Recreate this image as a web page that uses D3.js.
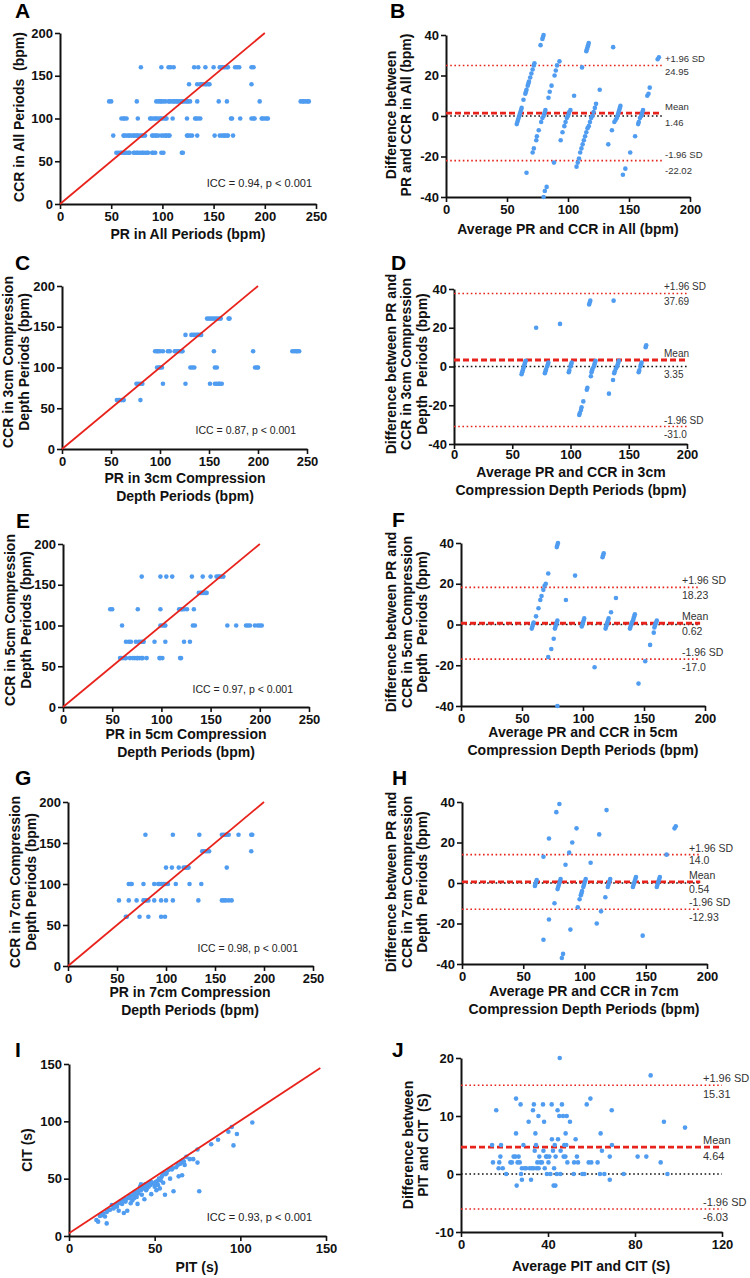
<!DOCTYPE html>
<html><head><meta charset="utf-8">
<script src="https://cdn.jsdelivr.net/npm/d3@7"></script>
<style>body{margin:0;background:#fff} text{font-family:"Liberation Sans",Arial,sans-serif}</style>
</head><body><svg id="c" width="750" height="1278"></svg>
<script>
// ---------------- DATA ----------------
const ccrLevels = [160, 140, 120, 100, 80, 60];
// PR values for each CCR level (rows follow ccrLevels)
const prA = [
  [79,99,106,108,111,131,135,142,150,156,158,160,161,163,164,171,173,175,187,189],
  [126,134,137,138,140,142,143,145,146,187],
  [48,50,75,94,96,98,99,101,103,106,107,109,111,112,114,115,117,119,120,122,124,125,127,134,155,163,195,235,237,238,240,242,243],
  [60,62,63,65,76,88,89,91,93,94,96,98,99,101,103,104,110,124,132,133,135,137,167,168,176,187,189,190,197,198,200,202,203],
  [52,62,63,65,67,68,70,72,73,75,76,78,80,81,83,90,91,93,94,96,99,101,103,104,106,107,124,125,127,129,134,151,156,158,160,161,163,164,169],
  [55,57,59,60,62,63,65,67,68,72,73,75,76,78,80,81,83,85,86,90,91,93,99,101,119,120]
];
const prC = [
  [148,150,152,154,156,158,160,162,170,171],
  [126,132,134,136,138,139,141,142],
  [95,97,98,100,103,108,110,115,117,118,120,122,123,155,195,235,237,239,240,242],
  [97,99,100,102,131,133,135,156,158,197,199,200],
  [76,78,80,82,103,126,151,156,158,160,161,163],
  [56,58,59,61,63,80]
];
const prE = [
  [80,99,105,111,131,142,150,156,158,159,161,163],
  [138,140,141,143,145,146],
  [48,50,76,99,118,120,121,123,126,133],
  [60,99,101,103,104,132,134,167,176,186,188,190,195,198,200,202],
  [64,67,69,74,77,79,81,82,93,104,123,129],
  [58,59,61,63,64,68,71,73,75,76,78,80,81,85,98,99,101,119,120]
];
const prG = [
  [79,107,134,157,159,161,162,164,174,187,188],
  [137,138,140,142,144,187],
  [100,106,113,118,120,121,123,162],
  [62,64,65,77,88,92,93,95,97,98,100,102,110,124,136],
  [52,62,70,77,78,80,82,88,95,100,107,133,157,159,161,164,167],
  [59,60,73,82,95,99]
];
// [average, difference] for Bland-Altman panels
const baB = [[58,-4],[58.5,-3],[59,-2],[59.5,-1],[60,0],[60.5,1],[61,2],[61.5,3],[62,4],[63.5,8],[65,11],[65.5,12],[66,13],[67,15],[67.5,16],[68,17],[69,19],[70,21],[71,23],[72,25],[72.5,26],
  [66,-28],[77.5,35],[79,38],[79.5,39],[80,40],
  [71,-18],[72,-16],[74,-12],[74.5,-10],[76,-7],[78,-3],[79,-1],[80,0],[80.5,1],[81,2],[81.5,3],
  [84,9],[85,12],[86.5,15],[89,20],[90,22.5],[91,25],[93,27],
  [80,-40],[81,-37],[82.5,-35],[88.5,-23],
  [94,-12],[95.5,-8],[97,-5],[98,-3],[99,-1],[100,0],[100.5,1],[101,2],[102,3],
  [105,10],[111.5,24],[115,32],[115.5,33],[116,34],[116.5,35],[117,36],
  [107,-25],[108,-23],[109,-21],[110,-18],[111,-16],[112,-14],[113,-12],[114,-10],[115,-8],[116,-6],[117,-5],[118,-3],[119,-1],[120,0],[121,2],[122,4],[123,6],[126,13],
  [133,-14],[136,-7],[138,-3],[139,-2],[140,-1],[140.5,0],[141,1],[141.5,2],[142,3],[142.5,4],[143,5],[137,34],
  [157.5,-4],[158,-3],[159,-1],[160,0],[160.5,1],[161,2],[161.5,3],[165,10],[166,11],[167,14],[173.5,28],[174.5,29],
  [155,-10],[151,-18],[147,-26],[145,-29]];
const baD = [[70.5,20],[91,22],[116,32],[116.5,33],[117,34],[137,34],
  [58,-4],[58.5,-3],[59,-2],[59.5,-1],[60,0],[60.5,1],[61,2],[61.5,3],
  [78,-3.5],[78.5,-2.5],[79,-1.5],[80,0],[80.5,1],[81,2],
  [98.5,-3],[99,-2],[100,0],[100.5,1],[101,2],
  [118,-3],[118.5,-2],[119,-1],[120,0],[120.5,1],[121,2],[121.5,3],
  [117.5,-5],[114.5,-11],[114,-12],[111,-18],[109.5,-21],[109,-22.5],[108,-24],[107.5,-25],
  [137.5,-3.5],[138,-2.5],[139,-1],[140,0],[140.5,1],[141,2],[141.5,3],[136.5,-7],[133,-14],
  [158.5,-3],[159,-2],[160,0],[160.5,1],[161,2],[164.5,10],[165,11]];
const baF = [[58,-2],[58.5,-1],[59,0],[59.5,1],[61.5,4],[63.5,8],[65,12],[66,14],[67.5,17],[68.5,19],[69.5,20],[71.5,25],
  [78.5,38],[79,39],[79.5,40],
  [77,-2],[77.5,-1],[78,0],[78.5,1],[79,2],[71.5,-16],[74,-12],[76,-7],
  [93.5,24],[86,12],[79,-40],
  [99,-1],[99.5,0],[100,1],[100.5,2],[101,3],
  [116,33],[116.5,34],[117,35],
  [118.5,-2],[119,-1],[119.5,0],[120,1],[120.5,2],[121,3],[123,6],[127,13],
  [109.5,-21],
  [138.5,-2],[139,-1],[139.5,0],[140,1],[141,2],[141.5,3],[142,4],[142.5,5],
  [158.5,-1.5],[159,-0.5],[159.5,0.5],[160,1],[160.5,2],
  [158,-4],[155,-10],[151,-18],[145.5,-29]];
const baH = [[79.5,39],[77,35],[118,36],[71,22],[93.5,27],[112,24],[90,20],[87.5,15],[66.5,13],[84.5,9],[105,10],[167,14],[173.5,27],[174.5,28],
  [59.5,-1.5],[60,-0.5],[60.5,0.5],[61,1.5],
  [78,-3],[78.5,-2],[79,-1],[79.5,0],[80,1],[80.5,2],
  [97,-6],[97.5,-5],[98,-4],[99,-2],[99.5,-1],[100,0],[100.5,1],[101,2],
  [119,-2],[119.5,-1],[120,0],[120.5,1],[121,2],
  [139.5,-2],[140,-1],[140.5,0],[141,1],[141.5,2],[142,3],
  [159,-2],[159.5,-1],[160,0],[160.5,1],[161,2],[161.5,3],
  [96,-8],[94.5,-12],[75.5,-10],[117,-7],[113.5,-14],[110,-20],[71,-18],[88.5,-23],[66.5,-28],[147.5,-26],[82.5,-35],[81.5,-37]];
// [PIT, CIT]
const pitCit = [[16,14],[17,12.5],[18,17.5],[19,18],[20,19.5],[21,17],[22,11],[22,21],[23,22.5],[24,23],[25,27],[26,24],[27,26],[28,25.5],[29,22],[29,28.5],[30,30],[31,28],[32,20],[32,32],[33,30],[34,22],[35,34],[36,35],[36,28.5],[37,31],[37.5,36],[38,33],[38.5,38.5],[39.5,34],[40,28],[40.5,37],[41,40],[41.5,43],[42,45],[42.5,36],[43,41.5],[43.5,44],[44,32],[44.5,45],[45,40],[45.5,41.5],[46.5,43],[47.5,44.5],[48,36.5],[49,46],[50,43],[50.5,47],[51,40],[52,44.5],[53,41.5],[53.5,48.5],[54,51.5],[55,46.5],[56,36],[56.5,54],[58,57.5],[59,50],[60,58],[61,39],[62.5,60],[64,52],[65,63],[66,53],[66.5,66],[67.5,62],[68.5,69],[70.5,67],[72.5,67],[75,75.5],[75,64],[76,39],[83,80],[87,84],[93,91],[95,95],[96,79],[98,89],[107,99],
  [26,25.5],[27.5,27],[30.5,29.5],[33.5,32.5],[35.5,33],[38,36.5],[39,37],[40,38.5],[42,40],[43,43],[44,42],[45,44],[46,45],[47,46],[48,47],[50,45],[51.5,48],[52.5,50],[54.5,53],[55.5,55],[57,55],[60.5,59],[63.5,62],[65.5,64],[67,65]];
// [average, difference] PIT vs CIT
const baJ = [[14.3,5],[14.7,2],[16.2,11],[17.3,1],[17.6,2],[18.4,5],[18.1,3],[19.2,1],[20.8,0],[22.7,2],[23.4,2],[24.2,3],[25,3],[25.3,13],[25.3,7],[25.6,-2],[26,2],[26.5,3],[27,2],[27.4,12],[27.6,0],[28,1],[28,-1],[28.7,5],[29.3,1],[29.9,1],[31.1,9],[31.6,1],[32.2,-1],[32.6,1],[33.1,11],[33.5,12],[33.4,1],[33.9,4],[34.2,7],[34.5,5],[34.8,1],[35.1,2],[35.6,10],[35.7,1],[36,3],[36.5,2],[37.2,2],[37.7,12],[37.9,4],[38.2,9],[38.5,1],[39.1,3],[39.5,3],[40.2,2],[39.5,0],[40.6,3],[41.1,0],[41.7,12],[41.8,6],[42.3,4],[42.6,-2],[42.8,1],[43.1,5],[43.4,-2],[43.5,3],[44,0],[44.4,11],[44.6,6],[45.2,10],[45.4,20],[45.7,0],[45.8,4],[46.4,12],[46.9,10],[47.2,3],[47.5,5],[48,3],[48.1,7],[48.4,5],[48.6,10],[48.9,2],[50.1,9],[51.8,0],[52,2],[52.7,6],[53.3,3],[53.8,2],[55.8,0],[56.7,0],[57.8,12],[58.7,2],[59.5,13],[59.9,2],[62.8,2],[64.2,7],[63.9,0],[64.8,4],[65.9,0],[68.4,3],[68.4,-1],[69.3,11],[69.4,5],[74.8,0],[81.2,3],[85.2,3],[87.2,17],[91.8,2],[93.3,9],[94.9,0],[103,8]];
// Bland-Altman statistics: [upper LoA, mean, lower LoA]
const statsB = [24.95, 1.46, -22.02];
const statsD = [37.69, 3.35, -31.0];
const statsF = [18.23, 0.62, -17.0];
const statsH = [14.0, 0.54, -12.93];
const statsJ = [15.31, 4.64, -6.03];
const statLabelsB = ["24.95", "1.46", "-22.02"];
const statLabelsD = ["37.69", "3.35", "-31.0"];
const statLabelsF = ["18.23", "0.62", "-17.0"];
const statLabelsH = ["14.0", "0.54", "-12.93"];
const statLabelsJ = ["15.31", "4.64", "-6.03"];
const identityLine = [[0,0],[200,200]];
const lineI = [[0,2.3],[146.7,146.5]];
const iccText = ["ICC = 0.94, p < 0.001","ICC = 0.87, p < 0.001","ICC = 0.97, p < 0.001","ICC = 0.98, p < 0.001","ICC = 0.93, p < 0.001"];
const ticks250 = [0,50,100,150,200,250], ticks200 = [0,50,100,150,200], ticks150 = [0,50,100,150];
const ticksDiff = [-40,-20,0,20,40], ticksJx = [0,40,80,120], ticksJy = [-10,0,10,20];

// ---------------- DRAW ----------------
const svg = d3.select('#c');
svg.append('rect').attr('width',750).attr('height',1278).attr('fill','#fff');
const DOT = '#4f9cf0', RED = '#e8231c';

function axes(x, y, xt, yt, tp) {
  const gx = svg.append('g').attr('transform',`translate(0,${y.range()[0]})`)
    .call(d3.axisBottom(x).tickValues(xt).tickSize(5).tickSizeOuter(0).tickPadding(tp).tickFormat(d=>String(d)));
  const gy = svg.append('g').attr('transform',`translate(${x.range()[0]},0)`)
    .call(d3.axisLeft(y).tickValues(yt).tickSize(5).tickSizeOuter(0).tickPadding(2).tickFormat(d=>String(d)));
  [gx,gy].forEach(g=>{
    g.select('.domain').attr('stroke','#111').attr('stroke-width',2);
    g.selectAll('.tick line').attr('stroke','#111').attr('stroke-width',1.6);
    g.selectAll('.tick text').attr('font-size',13).attr('font-weight','bold').attr('fill','#111')
      .attr('font-family','"Liberation Sans",Arial,sans-serif');
  });
}
function xTitle(lines, cx, y0) {
  lines.forEach((t,i)=>svg.append('text').attr('x',cx).attr('y',y0+i*18).attr('text-anchor','middle')
    .attr('font-size',14).attr('font-weight','bold').attr('fill','#111').text(t));
}
function yTitle(lines, xs, cy) {
  lines.forEach((t,i)=>svg.append('text').attr('transform',`translate(${xs[i]},${cy}) rotate(-90)`)
    .attr('text-anchor','middle').attr('font-size',14).attr('font-weight','bold').attr('fill','#111')
    .style('white-space','pre').text(t));
}
function letter(t, x, y) {
  svg.append('text').attr('x',x).attr('y',y).attr('font-size',21).attr('font-weight','bold').attr('fill','#000').text(t);
}
function dots(pts, x, y) {
  svg.append('g').selectAll('circle').data(pts).join('circle')
    .attr('cx',d=>x(d[0])).attr('cy',d=>y(d[1])).attr('r',2.3).attr('fill',DOT);
}
function scatter(cfg) {
  const x = d3.scaleLinear().domain(cfg.xd).range(cfg.xr);
  const y = d3.scaleLinear().domain(cfg.yd).range(cfg.yr);
  let pts = cfg.pts;
  if (!pts) { pts = []; ccrLevels.forEach((c,i)=>cfg.rows[i].forEach(p=>pts.push([p,c]))); }
  axes(x, y, cfg.xt, cfg.yt, 3);
  dots(pts, x, y);
  svg.append('path').attr('d', d3.line().x(d=>x(d[0])).y(d=>y(d[1]))(cfg.line))
    .attr('stroke',RED).attr('stroke-width',1.8).attr('fill','none');
  svg.append('text').attr('x',cfg.icc[1]).attr('y',cfg.icc[2]).attr('text-anchor','end')
    .attr('font-size',cfg.icc[3]).attr('fill','#222').text(cfg.icc[0]);
}
function bland(cfg) {
  const x = d3.scaleLinear().domain(cfg.xd).range(cfg.xr);
  const y = d3.scaleLinear().domain(cfg.yd).range(cfg.yr);
  axes(x, y, cfg.xt, cfg.yt, cfg.tp);
  const x0 = x(cfg.xd[0]), x1 = x(cfg.lineEnd);
  const ln = (v, col, w, dash) => svg.append('line').attr('x1',x0).attr('x2',x1).attr('y1',y(v)).attr('y2',y(v))
      .attr('stroke',col).attr('stroke-width',w).attr('stroke-dasharray',dash);
  ln(0,'#111',1.6,'1.6,2.6');
  ln(cfg.stats[0],RED,1.6,'1.6,2.6');
  ln(cfg.stats[2],RED,1.6,'1.6,2.6');
  ln(cfg.stats[1],RED,2.8,'6,3');
  dots(cfg.pts, x, y);
  const names = ['+1.96 SD','Mean','-1.96 SD'];
  cfg.stats.forEach((v,i)=>{
    svg.append('text').attr('x',cfg.lx).attr('y',y(v)-3).attr('font-size',cfg.fs).attr('fill','#333').text(names[i]);
    svg.append('text').attr('x',cfg.lx).attr('y',y(v)+cfg.vo[i]).attr('font-size',cfg.fs).attr('fill','#333').text(cfg.labels[i]);
  });
}

// Panel A
scatter({xd:[0,250], xr:[60,316], yd:[0,200], yr:[204,33], xt:ticks250, yt:ticks200, rows:prA, line:identityLine, icc:[iccText[0],312,187,11]});
letter('A',15,18);
xTitle(['PR in All Periods (bpm)'],188,239);
yTitle(['CCR in All Periods  (bpm)'],[24],117);
// Panel B
bland({xd:[0,200], xr:[446,690], yd:[-40,40], yr:[197,35], xt:ticks200, yt:ticksDiff, pts:baB, stats:statsB, labels:statLabelsB, lineEnd:177, lx:665, fs:9.5, tp:3, vo:[10,13,13]});
letter('B',390,18);
xTitle(['Average PR and CCR in All (bpm)'],568,234);
yTitle(['Difference between','PR and CCR in All (bpm)'],[396,411],115);
// Panel C
scatter({xd:[0,250], xr:[62,307], yd:[0,200], yr:[449,286], xt:ticks250, yt:ticks200, rows:prC, line:identityLine, icc:[iccText[1],296,434,10.5]});
letter('C',15,270);
xTitle(['PR in 3cm Compression','Depth Periods (bpm)'],185,483);
yTitle(['CCR in 3cm Compression','Depth Periods (bpm)'],[13,29],362);
// Panel D
bland({xd:[0,200], xr:[454,687], yd:[-40,40], yr:[444,289], xt:ticks200, yt:ticksDiff, pts:baD, stats:statsD, labels:statLabelsD, lineEnd:200, lx:664, fs:10, tp:1, vo:[12,17.5,11.5]});
letter('D',391,270);
xTitle(['Average PR and CCR in 3cm','Compression Depth Periods (bpm)'],571,477);
yTitle(['Difference between PR and','CCR in 3cm Compression','Depth  Periods (bpm)'],[396,411,427],364);
// Panel E
scatter({xd:[0,250], xr:[63,309], yd:[0,200], yr:[707,544], xt:ticks250, yt:ticks200, rows:prE, line:identityLine, icc:[iccText[2],293,693,10.5]});
letter('E',16,528);
xTitle(['PR in 5cm Compression','Depth Periods (bpm)'],186,739);
yTitle(['CCR in 5cm Compression','Depth Periods (bpm)'],[15,31],620);
// Panel F
bland({xd:[0,200], xr:[461,705], yd:[-40,40], yr:[706,543], xt:ticks200, yt:ticksDiff, pts:baF, stats:statsF, labels:statLabelsF, lineEnd:196, lx:682, fs:10.5, tp:3, vo:[12,12,11.5]});
letter('F',392,527);
xTitle(['Average PR and CCR in 5cm','Compression Depth Periods (bpm)'],583,737);
yTitle(['Difference between PR and','CCR in 5cm Compression','Depth  Periods (bpm)'],[396,412,427],622);
// Panel G
scatter({xd:[0,250], xr:[68,313], yd:[0,200], yr:[966,802], xt:ticks250, yt:ticks200, rows:prG, line:identityLine, icc:[iccText[3],298,952,10.5]});
letter('G',15,785);
xTitle(['PR in 7cm Compression','Depth Periods (bpm)'],190,997);
yTitle(['CCR in 7cm Compression','Depth Periods (bpm)'],[20,36],882);
// Panel H
bland({xd:[0,200], xr:[462,707], yd:[-40,40], yr:[964,802], xt:ticks200, yt:ticksDiff, pts:baH, stats:statsH, labels:statLabelsH, lineEnd:194.5, lx:689, fs:10.5, tp:3, vo:[9,11.5,11.5]});
letter('H',392,785);
xTitle(['Average PR and CCR in 7cm','Compression Depth Periods (bpm)'],584,996);
yTitle(['Difference between PR and','CCR in 7cm Compression','Depth  Periods (bpm)'],[396,412,427],882);
// Panel I
scatter({xd:[0,150], xr:[69,326], yd:[0,150], yr:[1236,1064], xt:ticks150, yt:ticks150, pts:pitCit, line:lineI, icc:[iccText[4],312,1221,11]});
letter('I',15,1057);
xTitle(['PIT (s)'],197,1272);
yTitle(['CIT (s)'],[32],1150);
// Panel J
bland({xd:[0,120], xr:[461,722], yd:[-10,20], yr:[1232,1058], xt:ticksJx, yt:ticksJy, pts:baJ, stats:statsJ, labels:statLabelsJ, lineEnd:120, lx:703, fs:11, tp:3, vo:[13,13,12.5]});
letter('J',392,1057);
xTitle(['Average PIT and CIT (S)'],591,1271);
yTitle(['Difference between','PIT and CIT  (S)'],[413,428],1145);
</script></body></html>
